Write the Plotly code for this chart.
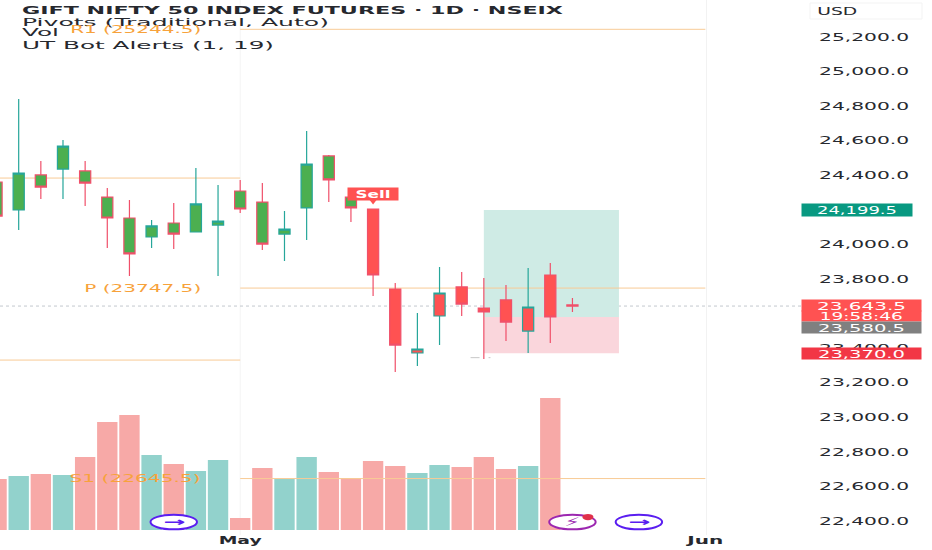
import json

import plotly.graph_objects as go

# daily bars, index 11 is 1 May
opens = [24361, 24199, 24402, 24436, 24425, 24274, 24153, 24043, 24124, 24072, 24112, 24309, 24245, 24060,
         24211, 24512, 24274, 24205, 23742, 23372, 23586, 23754, 23632, 23679, 23499, 23823, 23650]
highs = [24400, 24841, 24483, 24604, 24483, 24326, 24257, 24141, 24240, 24442, 24344, 24373, 24355, 24193,
         24656, 24517, 24274, 24205, 23777, 23603, 23869, 23840, 23806, 23765, 23864, 23893, 23690]
lows = [24100, 24083, 24263, 24263, 24222, 23979, 23817, 23979, 23974, 24072, 23817, 24182, 23968, 23904,
        24026, 24245, 24130, 23702, 23262, 23297, 23418, 23586, 23337, 23441, 23372, 23430, 23609]
closes = [24164, 24413, 24332, 24569, 24355, 24153, 23945, 24107, 24060, 24234, 24135, 24205, 24002, 24089,
          24465, 24373, 24211, 23823, 23418, 23395, 23719, 23655, 23609, 23551, 23638, 23580, 23643.5]
volumes = [51, 54, 56, 55, 73, 108, 115, 75, 66, 59, 70, 12, 62, 51, 73, 58, 52, 69, 64, 57, 65, 63, 73, 61, 64, 132]
days = list(range(len(opens)))
green_filled = 17  # bars before the sell signal keep the green body

# 23,600 and 24,200 sit under the price tags in the reference
price_ticks = [22400, 22600, 22800, 23000, 23200, 23400, 23800, 24000, 24400, 24600, 24800, 25000, 25200]
date_ticks = [11, 32]
date_labels = ["May", "Jun"]

# pivots: start, end, price
april_pivots = [(-1, 11, 24384), (-1, 11, 23331)]
may_pivots = [(11, 32, 25244.5), (11, 32, 23747.5), (11, 32, 22645.5)]
pivot_labels = [("R1 (25244.5)", 25244.5), ("P (23747.5)", 23747.5), ("S1 (22645.5)", 22645.5)]

last_price = 23643.5
target_price = 24199.5
entry_price = 23580.5
stop_price = 23370.0
position_days = (22, 28.1)

teal = "#26A69A"
red = "#F0506A"
green_body = "#4CAF50"
red_body = "#FF5252"
pivot_color = "#F8CB96"
pivot_text = "#F7A23B"
ink = "#26282E"
violet = "#5A1EF0"
magenta = "#9C27B0"

fig = go.Figure()

vol_colors = ["#92D2CC" if c >= o else "#F7A9A7" for o, c in zip(opens, closes)]
fig.add_trace(go.Bar(x=days[:len(volumes)], y=volumes, marker_color=vol_colors, marker_line_width=0, yaxis="y2"))

for start, stop, body in [(0, green_filled, green_body), (green_filled, len(days), red_body)]:
    fig.add_trace(go.Candlestick(
        x=days[start:stop], open=opens[start:stop], high=highs[start:stop],
        low=lows[start:stop], close=closes[start:stop], whiskerwidth=0,
        increasing=dict(line=dict(color=teal, width=1.2), fillcolor=body),
        decreasing=dict(line=dict(color=red, width=1.2), fillcolor=body),
    ))

shapes = []


def hline(x0, x1, price, color=pivot_color, width=1, dash="solid", layer="below"):
    shapes.append(dict(type="line", xref="x", yref="y", x0=x0, x1=x1, y0=price, y1=price, layer=layer,
                       line=dict(color=color, width=width, dash=dash)))


# long position tool
shapes.append(dict(type="rect", xref="x", yref="y", x0=position_days[0], x1=position_days[1], y0=entry_price,
                   y1=target_price, fillcolor="#CFEBE5", line_width=0, layer="below"))
shapes.append(dict(type="rect", xref="x", yref="y", x0=position_days[0], x1=position_days[1], y0=stop_price,
                   y1=entry_price, fillcolor="#FAD6DC", line_width=0, layer="below"))

for x0, x1, price in april_pivots + may_pivots[:2]:
    hline(x0, x1, price)
hline(may_pivots[2][0], may_pivots[2][1], may_pivots[2][2], layer="above")
hline(21.4, 22.3, 23345, color="#C8C8C8", dash="dash")

# month seam and right border
shapes.append(dict(type="line", xref="x", yref="paper", x0=11, x1=11, y0=0, y1=1, layer="below",
                   line=dict(color="#F4F4F4", width=1)))
# dotted last price line runs on under the scale
shapes.append(dict(type="line", xref="paper", yref="y", x0=0, x1=1.135, y0=last_price, y1=last_price,
                   layer="below", line=dict(color="#C4C8CE", width=1, dash="dot")))
# currency box
shapes.append(dict(type="rect", xref="paper", yref="paper", x0=810 / 706, x1=922 / 706, y0=1 - 19 / 535,
                   y1=1 - 3 / 535, line=dict(color="#F3F3F3", width=1), fillcolor="white"))

# event badges at the bottom
for day, color in [(8, violet), (26, magenta), (29, violet)]:
    shapes.append(dict(type="circle", xref="x", yref="y", x0=day - 1.05, x1=day + 1.05, y0=22352, y1=22436,
                       fillcolor="white", line=dict(color=color, width=2), layer="above"))
shapes.append(dict(type="circle", xref="x", yref="y", x0=26.45, x1=26.95, y0=22405, y1=22441,
                   fillcolor="#E0304A", line_width=0, layer="above"))

fig.add_trace(go.Scatter(x=[17], y=[24251], mode="markers", marker=dict(symbol="triangle-down", size=7, color=red_body)))

annotations = []


def note(text, x, y, xref="paper", yref="paper", size=11, color=ink, bold=False, **kw):
    annotations.append(dict(text=text, x=x, y=y, xref=xref, yref=yref, showarrow=False, yanchor="middle",
                            font=dict(family="DejaVu Sans", size=size, color=color,
                                      weight="bold" if bold else "normal"), **kw))


def px_y(p):
    return 1 - p / 535


note("GIFT NIFTY 50 INDEX FUTURES · 1D · NSEIX", 20 / 706, px_y(10), bold=True, xanchor="left", align="left")
note("Pivots (Traditional, Auto)", 20 / 706, px_y(22), xanchor="left", align="left")
note("Vol", 20 / 706, px_y(33), xanchor="left", align="left")
note("UT Bot Alerts (1, 19)", 20 / 706, px_y(45), xanchor="left", align="left")
note("USD", 850 / 706, px_y(10.5), size=10.5)

for text, price in pivot_labels:
    note(text, 203 / 706, price, yref="y", color=pivot_text, xanchor="right", align="right")

note("Sell", 17, 24292, xref="x", yref="y", size=10, color="white", bold=True, bgcolor=red_body, width=50, height=12,
     borderpad=0)
for day, color in [(8, violet), (29, violet)]:
    note("→", day, 22394, xref="x", yref="y", size=12, color=color, bold=True)
note("⚡", 26, 22394, xref="x", yref="y", size=12, color=magenta)

# price tags on the scale
tag_x = 801 / 706
tags = [
    ("24,199.5", target_price, 110, 12, "#089981"),
    ("23,643.5", 23648, 119, 11, "#FF5252"),
    ("19:58:46", 23585, 119, 10, "#FF5252"),
    ("23,580.5", 23519, 119, 11, "#808080"),
    ("23,370.0", stop_price, 119, 11, "#F23645"),
]
for text, price, w, h, bg in tags:
    note(text, tag_x, price, yref="y", size=10.5, color="white", bgcolor=bg, xanchor="left", width=w, height=h,
         borderpad=0, align="center")

fig.update_layout(
    width=932, height=550, margin=dict(l=0, r=226, t=0, b=15),
    paper_bgcolor="white", plot_bgcolor="white", showlegend=False, hovermode=False,
    boxgap=0.28, bargap=0.08, shapes=shapes, annotations=annotations,
    xaxis=dict(range=[0.156, 32.03], tickvals=date_ticks, ticktext=date_labels, showgrid=False, zeroline=False,
               rangeslider=dict(visible=False), ticks="", ticklabelstandoff=-3,
               tickfont=dict(family="DejaVu Sans", size=11, color=ink, weight="bold")),
    yaxis=dict(range=[22319, 25414], side="right", tickvals=price_ticks, tickformat=",.1f", showgrid=False,
               zeroline=False, showline=True, linecolor="#F2F2F2", ticks="", ticklabelstandoff=110,
               tickfont=dict(family="DejaVu Sans", size=10.5, color=ink)),
    yaxis2=dict(range=[-5, 530], overlaying="y", visible=False),
)

# the reference is stretched sideways, so stretch labels to their measured widths
label_widths = {
    "GIFT NIFTY 50 INDEX FUTURES · 1D · NSEIX": 541, "Pivots (Traditional, Auto)": 307, "Vol": 37,
    "UT Bot Alerts (1, 19)": 252, "R1 (25244.5)": 131, "P (23747.5)": 117, "S1 (22645.5)": 131,
    "Sell": 35, "May": 43, "Jun": 36, "USD": 40, "→": 22, "⚡": 16,
    "24,199.5": 80, "23,643.5": 89, "19:58:46": 83, "23,580.5": 87, "23,370.0": 87,
}
post = """
document.body.style.margin = '0';
var widths = %s;
document.querySelectorAll('svg text').forEach(function (t) {
    var w = widths[t.textContent] || 90;
    t.setAttribute('lengthAdjust', 'spacingAndGlyphs');
    t.setAttribute('textLength', w);
});
""" % json.dumps(label_widths, ensure_ascii=False)
fig.write_html("out.html", post_script=post, config=dict(displayModeBar=False))
